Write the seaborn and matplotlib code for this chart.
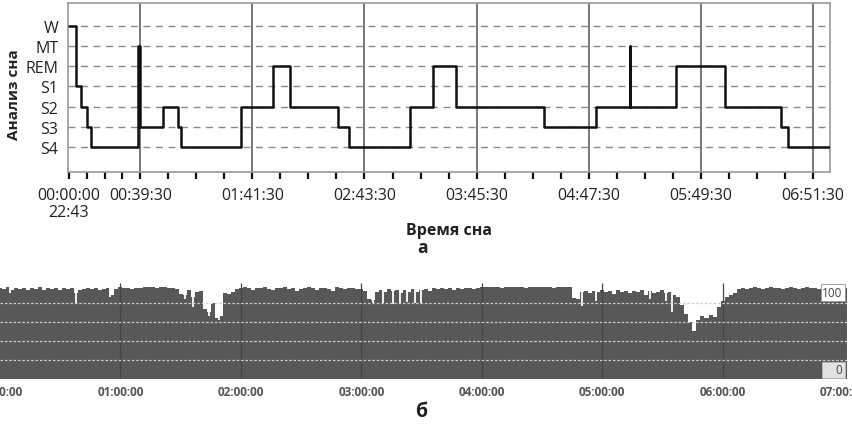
import numpy as np
import matplotlib
matplotlib.use("Agg")
import matplotlib.pyplot as plt
import seaborn as sns

# --- panel a: hypnogram (time in minutes from 00:00:00) ---
stage_names = ["S4", "S3", "S2", "S1", "REM", "MT", "W"]
hyp_times = [0, 4.2, 6.7, 10.0, 12.2, 38.3, 39.3, 51.8, 60.2, 62.0, 95.3,
             113.1, 122.4, 148.7, 154.8, 188.8, 201.3, 213.9, 262.6, 291.4,
             310.3, 310.3, 335.8, 362.9, 393.7, 397.9, 421.0]
hyp_stages = ["W", "S1", "S2", "S3", "S4", "MT", "S3", "S2", "S3", "S4", "S2",
              "REM", "S2", "S3", "S4", "S2", "REM", "S2", "S3", "S2",
              "MT", "S2", "REM", "S2", "S3", "S4", "S4"]
hyp_ticks = [0, 39.5, 101.5, 163.5, 225.5, 287.5, 349.5, 411.5]
hyp_ticklabels = ["00:00:00\n22:43", "00:39:30", "01:41:30", "02:43:30",
                  "03:45:30", "04:47:30", "05:49:30", "06:51:30"]

# --- panel b: saturation-like trace, one value every 2 minutes ---
trace_step = 2
trace_vals = [
    96, 95, 97, 94, 96, 95, 96, 94, 96, 95, 97, 94, 96, 95, 96, 94, 96, 95, 96, 90,
    94, 95, 96, 95, 96, 94, 95, 96, 88, 95,
    97, 96, 96, 95, 96, 96, 97, 97, 97, 96, 97, 97, 96, 96, 95, 89, 88, 94, 86, 91,
    93, 74, 70, 80, 64, 66, 90, 89, 91, 95,
    96, 97, 96, 94, 96, 96, 97, 95, 94, 96, 96, 97, 95, 96, 93, 95, 96, 97, 96, 94,
    96, 96, 95, 93, 97, 96, 95, 96, 96, 95,
    95, 93, 84, 83, 92, 94, 91, 95, 93, 94, 90, 94, 92, 95, 91, 94, 95, 93, 96, 95,
    96, 95, 96, 94, 96, 95, 96, 96, 95, 96,
    97, 97, 97, 97, 97, 96, 97, 97, 97, 97, 97, 96, 97, 97, 97, 97, 97, 97, 96, 97,
    97, 97, 97, 85, 84, 92, 93, 90, 93, 92,
    94, 92, 93, 89, 94, 92, 93, 90, 93, 92, 94, 88, 93, 90, 92, 94, 90, 91, 88, 86,
    78, 68, 60, 50, 62, 66, 64, 67, 65, 76,
    82, 86, 88, 90, 95, 96, 95, 96, 97, 96, 95, 96, 97, 96, 96, 95, 96, 97, 96, 95,
    96, 97, 96, 96, 95, 96, 97, 96, 96, 95,
    96, 96,
]
# short white drops in the trace (minute, lowest value)
dip_times = [5, 38, 55, 92, 96, 104, 109, 186, 191, 196, 199.5, 202.6, 206.7, 210,
             290, 297, 324, 332, 335]
dip_vals = [90, 79, 86, 84, 76, 66, 62, 80, 80, 79, 79, 81, 80, 80,
            77, 82, 84, 82, 70]
trace_ticks = [0, 60, 120, 180, 240, 300, 360, 420]
trace_ticklabels = ["00:00:00", "01:00:00", "02:00:00", "03:00:00",
                    "04:00:00", "05:00:00", "06:00:00", "07:00:00"]
trace_levels = [20, 40, 60, 80]

sns.set_theme(style="white")
plt.rcParams["font.family"] = ["Open Sans", "DejaVu Sans"]

fig = plt.figure(figsize=(8.52, 4.27), dpi=100)
W, H = 852, 427

# panel a
ax = fig.add_axes([68 / W, 1 - 173 / H, (830 - 68) / W, (173 - 4) / H])
levels = [stage_names.index(s) for s in hyp_stages]
for lv in range(len(stage_names)):
    ax.axhline(lv, color="#8a8a8a", lw=1.0, ls=(0, (5, 4)), zorder=1)
for t in hyp_ticks[1:]:
    ax.axvline(t, color="#777777", lw=1.4, zorder=1)
sns.lineplot(x=hyp_times, y=levels, drawstyle="steps-post", estimator=None,
             sort=False, color="#111111", lw=1.8, ax=ax, zorder=3)
ax.set_xlim(-0.5, 421)
ax.set_ylim(-1.25, 7.15)
ax.set_yticks(range(len(stage_names)))
ax.set_yticklabels(stage_names)
ax.set_xticks(hyp_ticks)
ax.set_xticklabels(hyp_ticklabels, linespacing=1.1)
minor = []
for a, b in zip(hyp_ticks[:-1], hyp_ticks[1:]):
    minor += [a + (b - a) * k / 4 for k in (1, 2, 3)]
ax.set_xticks(minor, minor=True)
ax.tick_params(axis="x", which="both", direction="out", length=5, width=1.6,
               color="#111111", bottom=True, labelsize=11.5, pad=6,
               labelcolor="#222222")
ax.tick_params(axis="y", length=0, labelsize=11.5, pad=7, labelcolor="#222222")
for sp in ax.spines.values():
    sp.set_color("#9a9a9a")
    sp.set_linewidth(1.2)
ax.set_xlabel("")
ax.set_ylabel("")

fig.text(14 / W, 1 - 95 / H, "Анализ сна", rotation=90, ha="center", va="center",
         fontsize=11, fontweight="bold", color="#222222")
fig.text(449 / W, 1 - 231 / H, "Время сна", ha="center", va="center",
         fontsize=11.5, fontweight="bold", color="#222222")
fig.text(422 / W, 1 - 248 / H, "а", ha="center", va="center",
         fontsize=12.5, fontweight="bold", color="#222222")

# panel b
bx = fig.add_axes([0, 1 - 380 / H, 847 / W, 97 / H])
t_trace = np.arange(len(trace_vals)) * trace_step
bx.fill_between(t_trace, 0, trace_vals, step="mid", color="#585858", lw=0, zorder=1)
bx.vlines(dip_times, dip_vals, 100, color="white", lw=1.3, zorder=2)
for lv in trace_levels:
    bx.axhline(lv, color="#cfcfcf", lw=0.9, ls=(0, (2, 1.5)), zorder=3)
bx.vlines(trace_ticks[1:-1], 0, 101, color="#444444", lw=0.9, zorder=2)
bx.set_xlim(0, 422)
bx.set_ylim(0, 102)
bx.set_yticks([])
bx.set_xticks(trace_ticks)
bx.set_xticklabels(trace_ticklabels)
bx.tick_params(axis="x", length=0, labelsize=8.5, pad=4, labelcolor="#555555")
for lab in bx.get_xticklabels():
    lab.set_fontweight("bold")
for sp in bx.spines.values():
    sp.set_visible(False)
bx.text(0.995, 0.89, "100", transform=bx.transAxes, ha="right", va="center",
        fontsize=8.5, color="#444444",
        bbox=dict(boxstyle="square,pad=0.15", fc="white", ec="#999999", lw=0.6))
bx.text(0.995, 0.095, "    0", transform=bx.transAxes, ha="right", va="center",
        fontsize=8.5, color="#444444",
        bbox=dict(boxstyle="square,pad=0.15", fc="#e2e2e2", ec="#bbbbbb", lw=0.6))

fig.text(421 / W, 1 - 412 / H, "б", ha="center", va="center",
         fontsize=14, fontweight="bold", color="#222222")

fig.savefig("out.png", dpi=100)
